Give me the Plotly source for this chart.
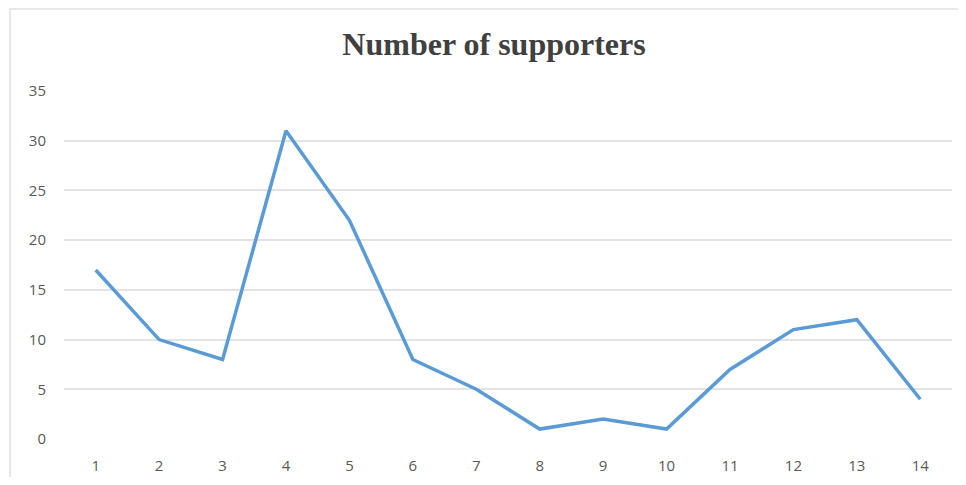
import plotly.graph_objects as go

categories = [1, 2, 3, 4, 5, 6, 7, 8, 9, 10, 11, 12, 13, 14]
supporters = [17, 10, 8, 31, 22, 8, 5, 1, 2, 1, 7, 11, 12, 4]
y_ticks = [0, 5, 10, 15, 20, 25, 30, 35]

fig = go.Figure()
fig.add_trace(go.Scatter(
    x=categories, y=supporters, mode="lines",
    line=dict(color="#5B9BD5", width=3.5),
    hoverinfo="x+y", showlegend=False,
))

H = 469
T, B = 83, 38
PH = H - T - B
fig.update_layout(
    width=950, height=H,
    margin=dict(l=56, r=6, t=T, b=B, autoexpand=False),
    paper_bgcolor="white", plot_bgcolor="white",
    title=dict(text="<b>Number of supporters</b>", x=0.5116, xanchor="center",
               y=0.923, yanchor="middle",
               font=dict(family="Liberation Serif", size=32, color="#404040")),
    xaxis=dict(range=[0.5, 14.5], tickvals=categories, ticktext=[str(c) for c in categories],
               showgrid=False, zeroline=False, showline=False, automargin=False,
               ticks="outside", ticklen=13, tickcolor="rgba(0,0,0,0)",
               tickfont=dict(family="Open Sans", size=15, color="#595959")),
    yaxis=dict(range=[0, 35], tickvals=y_ticks,
               showgrid=True, gridcolor="#E3E3E3", gridwidth=1.5,
               zeroline=False, showline=False, automargin=False,
               ticks="outside", ticklen=14, tickcolor="rgba(0,0,0,0)",
               tickfont=dict(family="Open Sans", size=15, color="#595959")),
    shapes=[
        dict(type="line", xref="paper", yref="paper", x0=-0.0608, x1=1.007,
             y0=1 + (T - 1) / PH, y1=1 + (T - 1) / PH,
             line=dict(color="#E0E0E0", width=1.5)),
        dict(type="line", xref="paper", yref="paper", x0=-0.0608, x1=-0.0608,
             y0=1 + (T - 1) / PH, y1=-B / PH,
             line=dict(color="#E0E0E0", width=1.5)),
    ],
)

fig.write_html("out.html")
